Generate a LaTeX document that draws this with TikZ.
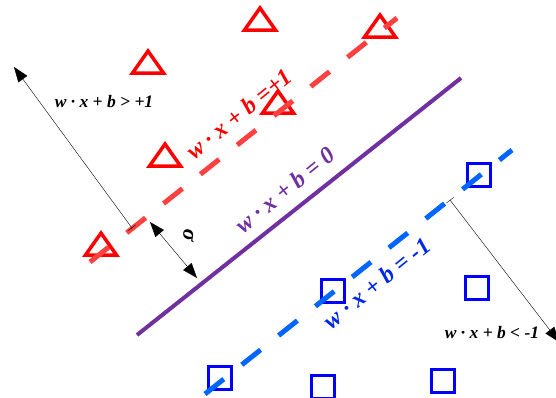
\documentclass[tikz,border=0pt]{standalone}
\usepackage{fontspec}
\setmainfont{Liberation Serif}
\usetikzlibrary{arrows.meta,shapes.geometric}
\definecolor{svRed}    {RGB}{255,  0,  0}
\definecolor{svRedL}   {RGB}{255, 64, 64}
\definecolor{svPurple} {RGB}{112, 48,160}
\definecolor{svBlue}   {RGB}{  0,  0,255}
\definecolor{svBlueL}  {RGB}{  0,102,255}
\definecolor{svBlueT}  {RGB}{  0, 40,230}

\begin{document}
\begin{tikzpicture}[x=1pt,y=-1pt,
  every node/.style={font=\bfseries\itshape},
  posmark/.style={draw=svRed,line width=3.5pt,isosceles triangle,isosceles triangle stretches,
              shape border rotate=90,minimum width=31,minimum height=22,inner sep=0pt},
  negmark/.style={draw=svBlue,line width=3pt,rectangle,minimum size=23,inner sep=0pt},
  margin/.style={line width=5pt,dash pattern=on 24pt off 23pt},
  lbl/.style={font=\fontsize{24}{26}\selectfont\bfseries\itshape,rotate=39,inner sep=0pt},
  halflbl/.style={font=\fontsize{17.5}{19}\selectfont\bfseries\itshape,inner sep=0pt},
  ptr/.style={thin,{Bar[width=9pt]}-{Triangle[length=15pt,width=11pt]}}
]
\useasboundingbox (0,0) rectangle (556,397);

% positive samples
\node[posmark] (T1) at (260,22)  {};
\node[posmark] (T2) at (148,65)  {};
\node[posmark] (T3) at (380,29)  {};
\node[posmark] (T4) at (278,105) {};
\node[posmark] (T5) at (165,158) {};
\node[posmark] (T6) at (101,247) {};

% negative samples
\node[negmark] (S1) at (479,175) {};
\node[negmark] (S2) at (477,288) {};
\node[negmark] (S3) at (333,291) {};
\node[negmark] (S4) at (220,378) {};
\node[negmark] (S5) at (323,387) {};
\node[negmark] (S6) at (443,381) {};

% hyperplanes
\coordinate (rA) at (90,262);  \coordinate (rB) at (397,18);
\coordinate (pA) at (137,335); \coordinate (pB) at (461,78);
\coordinate (bA) at (205,394); \coordinate (bB) at (512,150);
\draw[margin,svRedL]  (rA) -- (rB);
\draw[line width=4pt,svPurple] (pA) -- (pB);
\draw[margin,svBlueL] (bA) -- (bB);

\node[lbl,text=svRed]    (Lpos) at (239,114) {w · x + b =+1};
\node[lbl,text=svPurple] (Lzero) at (285,190) {w · x + b = 0};
\node[lbl,text=svBlueT]  (Lneg) at (377,283) {w · x + b = -1};

% half-space arrows
\coordinate (tkL) at (132,228); \coordinate (upEnd) at (14,67);
\coordinate (tkR) at (450,200); \coordinate (dnEnd) at (559,342);
\draw[ptr] (tkL) -- (upEnd);
\draw[ptr] (tkR) -- (dnEnd);
\node[halflbl] (Gpos) at (104,102) {w · x + b > +1};
\node[halflbl] (Gneg) at (492,333) {w · x + b < -1};

% margin width
\coordinate (sgA) at (150,222); \coordinate (sgB) at (197,278);
\draw[thin,{Triangle[length=15pt,width=11pt]}-{Triangle[length=15pt,width=11pt]}] (sgA) -- (sgB);
\node[halflbl,font=\fontsize{22}{24}\selectfont\bfseries\itshape,rotate=-100] (Sig) at (189,235) {σ};
\end{tikzpicture}
\end{document}
